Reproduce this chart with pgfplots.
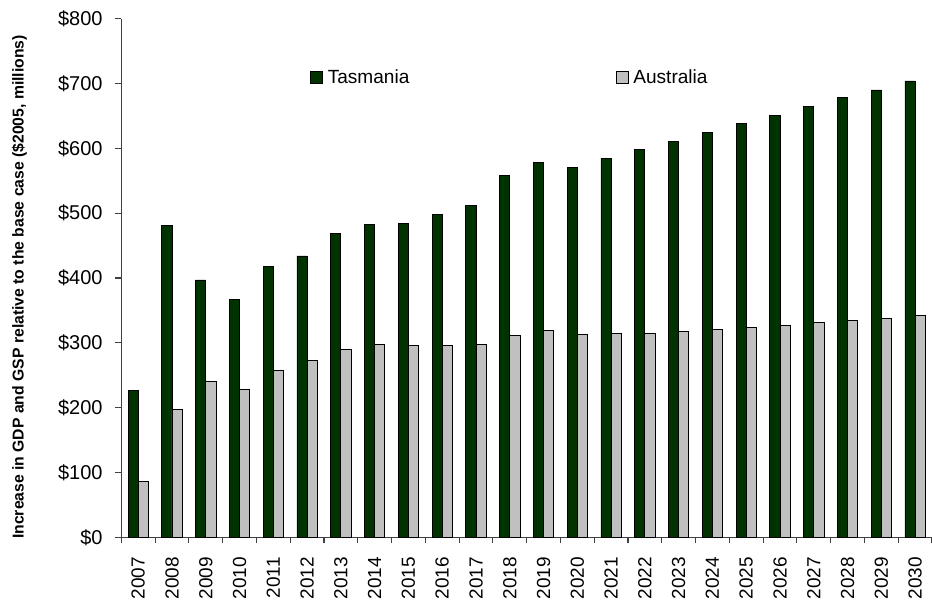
\documentclass[border=0pt]{standalone}
\usepackage{pgfplots}
\pgfplotsset{compat=1.18}
\usepackage{fontspec}
\setmainfont{Liberation Sans}
\usetikzlibrary{calc}

\definecolor{tasgreen}{HTML}{003300}
\definecolor{ausgrey}{HTML}{C0C0C0}

% values ($ millions)
% year index: 0 = 2007 ... 23 = 2030
\begin{document}
\begin{tikzpicture}
\begin{axis}[
  name=ax,
  scale only axis,
  width=608pt, height=389pt,
  ybar=0pt, bar width=0.3,
  xmin=-0.5, xmax=23.5,
  ymin=0, ymax=800,
  ytick={0,100,...,800},
  yticklabel={\$\pgfmathprintnumber{\tick}},
  /pgf/number format/assume math mode=true,
  xtick={0,...,23},
  xticklabels={2007,2008,2009,2010,2011,2012,2013,2014,2015,2016,2017,2018,2019,2020,2021,2022,2023,2024,2025,2026,2027,2028,2029,2030},
  minor xtick={-0.5,0.5,...,23.5},
  major x tick style={draw=none},
  tick align=outside,
  major tick length=4.5pt, minor tick length=4.5pt,
  tick style={black!75, line width=0.8pt},
  axis x line*=bottom, axis y line*=left,
  axis line style={black!75, line width=0.8pt, -},
  yticklabel style={font=\fontsize{15}{17}\selectfont},
  yticklabel shift=6pt,
  xticklabel style={font=\fontsize{14.2}{16}\selectfont, rotate=90, anchor=east},
  xticklabel shift=7pt,
  ylabel={\textbf{Increase in GDP and GSP relative to the base case (\$2005, millions)}},
  every axis y label/.style={at={(rel axis cs:0,0.5)}, rotate=90, anchor=center,
    yshift=76.5pt, xshift=-6.75pt, font=\fontsize{11.8}{13}\selectfont},
  legend columns=2,
  legend style={draw=none, fill=none, at={(0.228,0.886)}, anchor=west,
    font=\fontsize{14.3}{16}\selectfont,
    /tikz/every odd column/.append style={column sep=1.5pt},
    /tikz/every even column/.append style={column sep=153pt}},
  legend image code/.code={\draw[#1, line width=0.5pt] (0pt,-4.5pt) rectangle (9pt,4.5pt);},
]
\addplot[fill=tasgreen, draw=black, line width=0.6pt] coordinates {
 (0,227) (1,481) (2,397) (3,367) (4,418) (5,434) (6,469) (7,482)
 (8,484) (9,498) (10,512) (11,558) (12,578) (13,571) (14,585) (15,598)
 (16,611) (17,625) (18,638) (19,651) (20,665) (21,678) (22,690) (23,704)};
\addplot[fill=ausgrey, draw=black, line width=0.6pt] coordinates {
 (0,86) (1,197) (2,240) (3,228) (4,258) (5,273) (6,290) (7,297)
 (8,296) (9,296) (10,297) (11,312) (12,319) (13,313) (14,314) (15,315)
 (16,318) (17,321) (18,324) (19,327) (20,332) (21,335) (22,338) (23,342)};
\legend{Tasmania, Australia}
\end{axis}
\pgfresetboundingbox
\path[use as bounding box] ($(ax.south west)+(-91pt,-47pt)$) rectangle ($(ax.north east)+(0pt,14pt)$);
\end{tikzpicture}
\end{document}
